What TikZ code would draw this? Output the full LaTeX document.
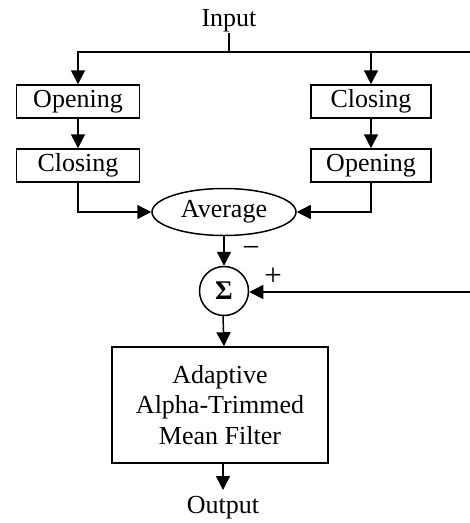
\documentclass[tikz,border=0pt]{standalone}
\usepackage{fontspec}
\setmainfont{Liberation Serif}
\usetikzlibrary{arrows.meta,shapes.geometric}
\tikzset{
  lw/.style={line width=1.5pt},
  arr/.style={lw,-{Triangle[length=14pt,width=14pt]}},
  opbox/.style={draw,lw,minimum height=33pt,inner sep=0pt,font=\fontsize{26}{30}\selectfont},
  txt/.style={inner sep=0pt,font=\fontsize{26}{30}\selectfont},
  sign/.style={inner sep=0pt,font=\fontsize{31}{34}\selectfont},
}
\begin{document}
\begin{tikzpicture}[x=1pt,y=-1pt]
\useasboundingbox (0,0) rectangle (470,523);
\node[txt,anchor=base] (in) at (229,26) {Input};
\coordinate (split) at (229,52);
\coordinate (eR) at (470,52);
\node[opbox,minimum width=123pt] (b1) at (78,101.5) {Opening};
\node[opbox,minimum width=123pt] (b2) at (78,165.5) {Closing};
\node[opbox,minimum width=120pt] (b3) at (371,101.5) {Closing};
\node[opbox,minimum width=120pt] (b4) at (371,165.5) {Opening};
\node[draw,lw,ellipse,minimum width=144pt,minimum height=47pt,inner sep=0pt,font=\fontsize{26}{30}\selectfont] (avg) at (224,212) {Average};
\node[draw,lw,circle,minimum size=49pt,inner sep=0pt,font=\fontsize{27}{30}\selectfont\bfseries] (sig) at (224,291) {Σ};
\coordinate (eR2) at (470,292);
\node[draw,lw,minimum width=216pt,minimum height=116pt,inner sep=0pt,align=center,font=\fontsize{26}{30.5}\selectfont] (filt) at (220,405) {Adaptive\\Alpha-Trimmed\\Mean Filter};
\node[txt,anchor=base] (out) at (223,513) {Output};
\node[sign] (minus) at (251,252) {−};
\node[sign] (plus) at (273,277) {+};
\coordinate (otip) at (223,490);
\draw[lw] (229,33) -- (split);
\draw[lw] (split) -- (eR);
\draw[arr] (split) -| (b1);
\draw[arr] (split) -| (b3);
\draw[arr] (b1) -- (b2);
\draw[arr] (b3) -- (b4);
\draw[arr] (b2) |- (avg);
\draw[arr] (b4) |- (avg);
\draw[arr] (avg) -- (sig);
\draw[arr] (eR2) -- (eR2 -| sig.east);
\draw[arr] (sig.south -| otip) -- (sig.south |- filt.north);
\draw[arr] (filt.south -| otip) -- (otip);
\end{tikzpicture}
\end{document}
